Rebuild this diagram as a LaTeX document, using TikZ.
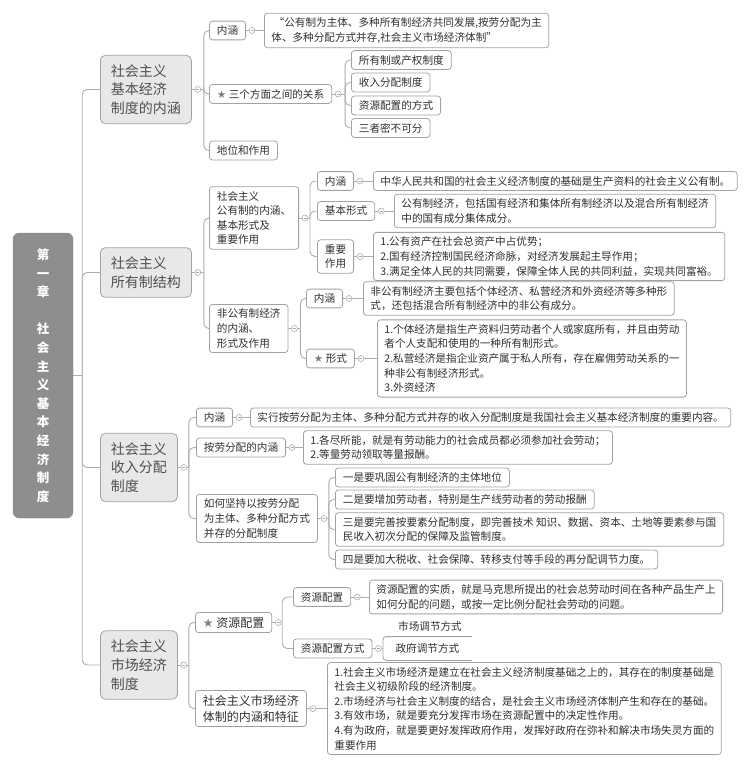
\documentclass[tikz,border=0pt]{standalone}
\usepackage{fontspec}
\setmainfont{Noto Sans CJK SC}
\newfontfamily\symfont{DejaVu Sans}
\usetikzlibrary{positioning}
\pgfdeclarelayer{edgelayer}
\pgfsetlayers{edgelayer,main}
\definecolor{rootfill}{HTML}{8E8E8E}
\definecolor{topicfill}{HTML}{E8E8E8}
\definecolor{topicink}{HTML}{505050}
\definecolor{boxline}{HTML}{A2A2A2}
\definecolor{linkc}{HTML}{ADADAD}
\definecolor{inkc}{HTML}{303030}
\newcommand{\starmark}{{\symfont\color{gray}★}\ }
\tikzset{
  rootbox/.style={rectangle,rounded corners=6pt,fill=rootfill,draw=rootfill,text=white,
    font=\bfseries\fontsize{12.5}{18.6}\selectfont,align=center,minimum width=60pt,minimum height=285pt},
  topic/.style={rectangle,rounded corners=5pt,fill=topicfill,draw=boxline,line width=0.8pt,text=topicink,
    font=\fontsize{14}{18.7}\selectfont,align=left,inner xsep=10.5pt,inner ysep=9pt,anchor=west},
  tag/.style={rectangle,rounded corners=3pt,fill=white,draw=boxline,line width=0.8pt,text=inkc,
    font=\fontsize{10.6}{14.6}\selectfont,align=left,inner xsep=7.5pt,inner ysep=4.5pt,anchor=west},
  bigtag/.style={tag,font=\fontsize{12}{16}\selectfont},
  notebox/.style={tag,inner xsep=7pt},
  fold/.style={circle,draw=linkc,fill=white,inner sep=0pt,minimum size=6pt,line width=0.6pt,
    path picture={\draw[linkc,line width=0.6pt] ([xshift=1.5pt]path picture bounding box.west) -- ([xshift=-1.5pt]path picture bounding box.east);}},
  link/.style={draw=linkc,line width=0.9pt,rounded corners=5pt}
}

\begin{document}
\begin{tikzpicture}[x=1pt,y=-1pt]
\useasboundingbox (0,0) rectangle (750,768);

% root and main topics
\node[rootbox] (root) at (43,375.5) {第\\一\\章\\[18.6pt]社\\会\\主\\义\\基\\本\\经\\济\\制\\度};
\node[topic] (t1) at (100,89.5) {社会主义\\基本经济\\制度的内涵};
\node[topic] (t2) at (100,272.5) {社会主义\\所有制结构};
\node[topic] (t3) at (100,467.5) {社会主义\\收入分配\\制度};
\node[topic] (t4) at (100,665) {社会主义\\市场经济\\制度};

% basic system
\node[tag] (a1) at (209,30.5) {内涵};
\node[notebox] (a1n) at (264,30.5) {\ “公有制为主体、多种所有制经济共同发展,按劳分配为主\\体、多种分配方式并存,社会主义市场经济体制”};
\node[tag] (a2) at (209,94) {\starmark 三个方面之间的关系};
\node[tag] (b1) at (351,60) {所有制或产权制度};
\node[tag] (b2) at (351,82.5) {收入分配制度};
\node[tag] (b3) at (351,105.5) {资源配置的方式};
\node[tag] (b4) at (351,128) {三者密不可分};
\node[tag] (a3) at (209,150.5) {地位和作用};

% ownership
\node[tag] (d1) at (209,218) {社会主义\\公有制的内涵、\\基本形式及\\重要作用};
\node[tag] (e1) at (317,181) {内涵};
\node[notebox] (e1n) at (373,181) {中华人民共和国的社会主义经济制度的基础是生产资料的社会主义公有制。};
\node[tag] (e2) at (317,211) {基本形式};
\node[notebox] (e2n) at (394,211) {公有制经济，包括国有经济和集体所有制经济以及混合所有制经济\\中的国有成分集体成分。};
\node[tag] (e3) at (317,256.5) {重要\\作用};
\node[notebox] (e3n) at (373,256.5) {1.公有资产在社会总资产中占优势；\\2.国有经济控制国民经济命脉，对经济发展起主导作用；\\3.满足全体人民的共同需要，保障全体人民的共同利益，实现共同富裕。};
\node[tag] (d2) at (209,328.5) {非公有制经济\\的内涵、\\形式及作用};
\node[tag] (g1) at (306,298.5) {内涵};
\node[notebox] (g1n) at (363,298.5) {非公有制经济主要包括个体经济、私营经济和外资经济等多种形\\式，还包括混合所有制经济中的非公有成分。};
\node[tag] (g2) at (306,358.5) {\starmark 形式};
\node[notebox] (g2n) at (377,358.5) {1.个体经济是指生产资料归劳动者个人或家庭所有，并且由劳动\\者个人支配和使用的一种所有制形式。\\2.私营经济是指企业资产属于私人所有，存在雇佣劳动关系的一\\种非公有制经济形式。\\3.外资经济};

% income distribution
\node[tag] (h1) at (196,417.5) {内涵};
\node[notebox] (h1n) at (250,417.5) {实行按劳分配为主体、多种分配方式并存的收入分配制度是我国社会主义基本经济制度的重要内容。};
\node[tag] (h2) at (196,447.5) {按劳分配的内涵};
\node[notebox] (h2n) at (303,447.5) {1.各尽所能，就是有劳动能力的社会成员都必须参加社会劳动；\\2.等量劳动领取等量报酬。};
\node[tag] (h3) at (196,518.5) {如何坚持以按劳分配\\为主体、多种分配方式\\并存的分配制度};
\node[tag] (k1) at (335,477.5) {一是要巩固公有制经济的主体地位};
\node[tag] (k2) at (335,499.5) {二是要增加劳动者，特别是生产线劳动者的劳动报酬};
\node[tag] (k3) at (335,529.5) {三是要完善按要素分配制度，即完善技术 知识、数据、资本、土地等要素参与国\\民收入初次分配的保障及监管制度。};
\node[tag] (k4) at (335,559.5) {四是要加大税收、社会保障、转移支付等手段的再分配调节力度。};

% market economy
\node[bigtag] (m1) at (195,622.5) {\starmark 资源配置};
\node[tag] (n1) at (293,597) {资源配置};
\node[notebox] (n1n) at (369,597) {资源配置的实质，就是马克思所提出的社会总劳动时间在各种产品生产上\\如何分配的问题，或按一定比例分配社会劳动的问题。};
\node[tag] (n2) at (293,648.5) {资源配置方式};
\node[tag,draw=none,minimum width=88pt,minimum height=23pt] (gov) at (383,648.5) {政府调节方式};
\node[font=\fontsize{10.6}{14.6}\selectfont,text=inkc] (mkt) at (430,626.5) {市场调节方式};
\node[bigtag] (m2) at (195,708.5) {社会主义市场经济\\体制的内涵和特征};
\node[notebox] (m2n) at (327,708.5) {1.社会主义市场经济是建立在社会主义经济制度基础之上的，其存在的制度基础是\\社会主义初级阶段的经济制度。\\2.市场经济与社会主义制度的结合，是社会主义市场经济体制产生和存在的基础。\\3.有效市场，就是要充分发挥市场在资源配置中的决定性作用。\\4.有为政府，就是要更好发挥政府作用，发挥好政府在弥补和解决市场失灵方面的\\重要作用};
\draw[boxline,line width=0.8pt,rounded corners=3pt] (gov.north east) -- (gov.north west) -- (gov.south west) -- (gov.south east);

\begin{pgfonlayer}{edgelayer}
\draw[link] (root.east) -- ++(9,0) coordinate (rs);
\foreach \t in {t1,t2,t3,t4} \draw[link] (rs) |- (\t.west);
\draw[link] (t1.east) -- ++(12,0) coordinate (t1s);
\foreach \c in {a1,a2,a3} \draw[link] (t1s) |- (\c.west);
\draw[link] (a2.east) -- ++(13,0) coordinate (a2s);
\foreach \c in {b1,b2,b3,b4} \draw[link] (a2s) |- (\c.west);
\draw[link] (t2.east) -- ++(12,0) coordinate (t2s);
\foreach \c in {d1,d2} \draw[link] (t2s) |- (\c.west);
\draw[link] (d1.east) -- ++(11,0) coordinate (d1s);
\foreach \c in {e1,e2,e3} \draw[link] (d1s) |- (\c.west);
\draw[link] (d2.east) -- ++(12,0) coordinate (d2s);
\foreach \c in {g1,g2} \draw[link] (d2s) |- (\c.west);
\draw[link] (t3.east) -- ++(11,0) coordinate (t3s);
\foreach \c in {h1,h2,h3} \draw[link] (t3s) |- (\c.west);
\draw[link] (h3.east) -- ++(11,0) coordinate (h3s);
\foreach \c in {k1,k2,k3,k4} \draw[link] (h3s) |- (\c.west);
\draw[link] (t4.east) -- ++(11,0) coordinate (t4s);
\foreach \c in {m1,m2} \draw[link] (t4s) |- (\c.west);
\draw[link] (m1.east) -- ++(10,0) coordinate (m1s);
\foreach \c in {n1,n2} \draw[link] (m1s) |- (\c.west);
\foreach \p/\c in {a1/a1n,e1/e1n,e2/e2n,e3/e3n,g1/g1n,g2/g2n,h1/h1n,h2/h2n,n1/n1n,n2/gov,m2/m2n}
  \draw[link] (\p.east) -- (\c.west);
\end{pgfonlayer}

% fold marks
\foreach \p in {t1,t2,t3,t4,a1,a2,d1,d2,e1,e2,e3,g1,g2,h1,h2,h3,m1,m2,n1,n2}
  \node[fold] (f\p) at ([xshift=6pt]\p.east) {};
\end{tikzpicture}
\end{document}
